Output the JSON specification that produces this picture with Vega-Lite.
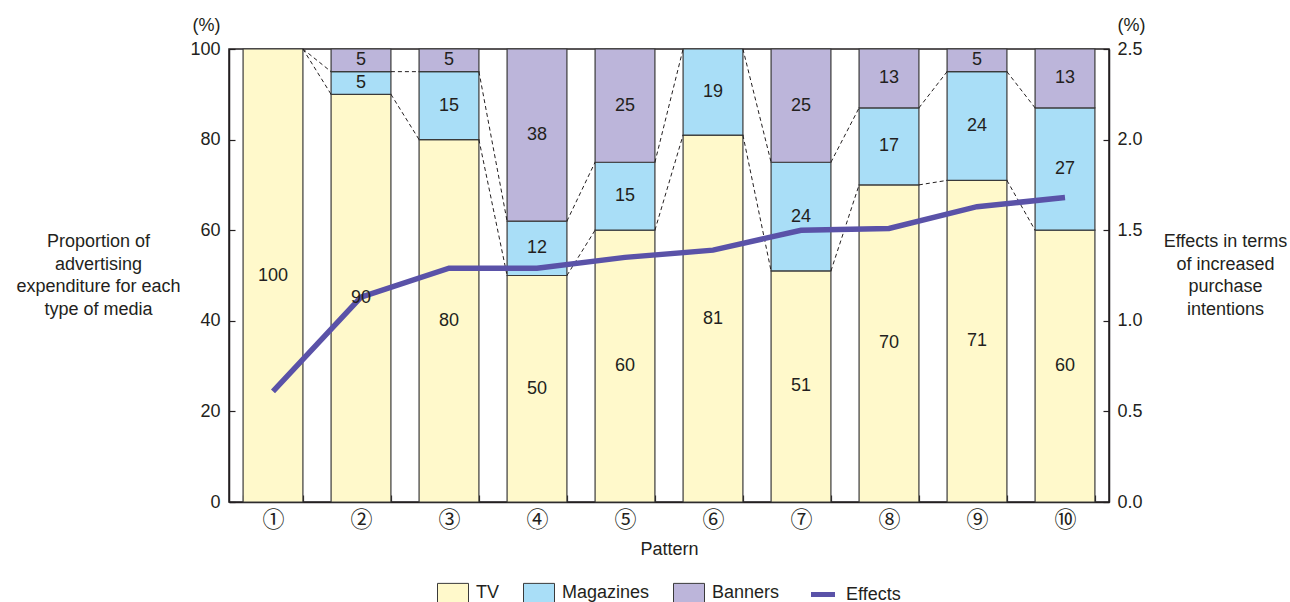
{
  "$schema": "https://vega.github.io/schema/vega-lite/v6.json",
  "width": 880,
  "height": 453,
  "autosize": {"type": "none"},
  "padding": {"left": 229, "top": 49, "right": 181, "bottom": 100},
  "config": {
    "font": "Liberation Sans",
    "view": {"stroke": "#231f20", "strokeWidth": 1.5},
    "axis": {
      "domainColor": "#231f20",
      "domainWidth": 1.5,
      "tickColor": "#231f20",
      "tickWidth": 1.2,
      "labelColor": "#231f20",
      "labelFontSize": 18,
      "labelFont": "Liberation Sans",
      "titleColor": "#231f20",
      "titleFontSize": 18,
      "titleFont": "Liberation Sans",
      "titleFontWeight": "normal",
      "grid": false
    },
    "axisX": {
      "labelFont": "Noto Sans CJK JP",
      "labelFontSize": 22
    }
  },
  "datasets": {
    "media": [
      {"pattern": "①", "media": "TV", "share": 100},
      {"pattern": "②", "media": "TV", "share": 90},
      {"pattern": "②", "media": "Magazines", "share": 5},
      {"pattern": "②", "media": "Banners", "share": 5},
      {"pattern": "③", "media": "TV", "share": 80},
      {"pattern": "③", "media": "Magazines", "share": 15},
      {"pattern": "③", "media": "Banners", "share": 5},
      {"pattern": "④", "media": "TV", "share": 50},
      {"pattern": "④", "media": "Magazines", "share": 12},
      {"pattern": "④", "media": "Banners", "share": 38},
      {"pattern": "⑤", "media": "TV", "share": 60},
      {"pattern": "⑤", "media": "Magazines", "share": 15},
      {"pattern": "⑤", "media": "Banners", "share": 25},
      {"pattern": "⑥", "media": "TV", "share": 81},
      {"pattern": "⑥", "media": "Magazines", "share": 19},
      {"pattern": "⑦", "media": "TV", "share": 51},
      {"pattern": "⑦", "media": "Magazines", "share": 24},
      {"pattern": "⑦", "media": "Banners", "share": 25},
      {"pattern": "⑧", "media": "TV", "share": 70},
      {"pattern": "⑧", "media": "Magazines", "share": 17},
      {"pattern": "⑧", "media": "Banners", "share": 13},
      {"pattern": "⑨", "media": "TV", "share": 71},
      {"pattern": "⑨", "media": "Magazines", "share": 24},
      {"pattern": "⑨", "media": "Banners", "share": 5},
      {"pattern": "⑩", "media": "TV", "share": 60},
      {"pattern": "⑩", "media": "Magazines", "share": 27},
      {"pattern": "⑩", "media": "Banners", "share": 13}
    ],
    "links": [
      {"a": "①", "b": "②", "ya": 100, "yb": 90},
      {"a": "①", "b": "②", "ya": 100, "yb": 95},
      {"a": "②", "b": "③", "ya": 90, "yb": 80},
      {"a": "②", "b": "③", "ya": 95, "yb": 95},
      {"a": "③", "b": "④", "ya": 80, "yb": 50},
      {"a": "③", "b": "④", "ya": 95, "yb": 62},
      {"a": "④", "b": "⑤", "ya": 50, "yb": 60},
      {"a": "④", "b": "⑤", "ya": 62, "yb": 75},
      {"a": "⑤", "b": "⑥", "ya": 60, "yb": 81},
      {"a": "⑤", "b": "⑥", "ya": 75, "yb": 100},
      {"a": "⑥", "b": "⑦", "ya": 81, "yb": 51},
      {"a": "⑥", "b": "⑦", "ya": 100, "yb": 75},
      {"a": "⑦", "b": "⑧", "ya": 51, "yb": 70},
      {"a": "⑦", "b": "⑧", "ya": 75, "yb": 87},
      {"a": "⑧", "b": "⑨", "ya": 70, "yb": 71},
      {"a": "⑧", "b": "⑨", "ya": 87, "yb": 95},
      {"a": "⑨", "b": "⑩", "ya": 71, "yb": 60},
      {"a": "⑨", "b": "⑩", "ya": 95, "yb": 87}
    ],
    "effects": [
      {"pattern": "①", "effect": 0.61},
      {"pattern": "②", "effect": 1.13},
      {"pattern": "③", "effect": 1.29},
      {"pattern": "④", "effect": 1.29},
      {"pattern": "⑤", "effect": 1.35},
      {"pattern": "⑥", "effect": 1.39},
      {"pattern": "⑦", "effect": 1.5},
      {"pattern": "⑧", "effect": 1.51},
      {"pattern": "⑨", "effect": 1.63},
      {"pattern": "⑩", "effect": 1.68}
    ]
  },
  "layer": [
    {
      "layer": [
        {
          "data": {"name": "media"},
          "mark": {"type": "bar", "stroke": "#3a3a3a", "strokeWidth": 1.2},
          "encoding": {
            "x": {
              "field": "pattern",
              "type": "nominal",
              "scale": {
                "domain": ["①", "②", "③", "④", "⑤", "⑥", "⑦", "⑧", "⑨", "⑩"],
                "paddingInner": 0.32,
                "paddingOuter": 0.16
              },
              "axis": {
                "title": "Pattern",
                "labelAngle": 0,
                "tickBand": "extent",
                "tickSize": -7,
                "labelPadding": 14,
                "titlePadding": 10
              }
            },
            "y": {
              "field": "share",
              "type": "quantitative",
              "stack": "zero",
              "scale": {"domain": [0, 100]},
              "axis": {
                "values": [0, 20, 40, 60, 80, 100],
                "tickSize": -6,
                "labelPadding": 15,
                "labelOverlap": false,
                "labelFlush": false,
                "labelLineHeight": 24,
                "labelExpr": "datum.value === 100 ? ['(%)', '100'] : datum.label",
                "labelOffset": {"condition": {"test": "datum.value === 100", "value": -24}, "value": 0},
                "title": ["Proportion of", "advertising", "expenditure for each", "type of media"],
                "titleAngle": 0,
                "titleAlign": "center",
                "titleBaseline": "middle",
                "titleLineHeight": 22.5,
                "titleX": -131,
                "titleY": 192.5
              }
            },
            "color": {
              "field": "media",
              "type": "nominal",
              "scale": {
                "domain": ["TV", "Magazines", "Banners", "Effects"],
                "range": ["#fff9cb", "#a9def7", "#bcb5da", "#5a52a8"]
              },
              "legend": {
                "title": null,
                "orient": "none",
                "legendX": 215,
                "legendY": 535,
                "direction": "horizontal",
                "symbolType": "M-1,-0.65H1V0.65H-1Z",
                "symbolSize": 961,
                "symbolStrokeColor": "#3a3a3a",
                "symbolStrokeWidth": 1,
                "labelFontSize": 18,
                "labelColor": "#231f20",
                "labelOffset": 14,
                "columnPadding": 21,
                "encode": {
                  "symbols": {
                    "update": {
                      "shape": {"signal": "datum.value === 'Effects' ? 'stroke' : 'M-1,-0.65H1V0.65H-1Z'"},
                      "size": {"signal": "datum.value === 'Effects' ? 576 : 961"},
                      "stroke": {"signal": "datum.value === 'Effects' ? '#5a52a8' : '#3a3a3a'"},
                      "strokeWidth": {"signal": "datum.value === 'Effects' ? 5 : 1"}
                    }
                  }
                }
              }
            },
            "order": {"field": "media", "sort": "descending"}
          }
        },
        {
          "data": {"name": "links"},
          "mark": {"type": "rule", "stroke": "#231f20", "strokeWidth": 1, "strokeDash": [4, 3]},
          "encoding": {
            "x": {
              "field": "a",
              "type": "nominal",
              "bandPosition": 1,
              "scale": {"domain": ["①", "②", "③", "④", "⑤", "⑥", "⑦", "⑧", "⑨", "⑩"]},
              "axis": {
                "title": "Pattern",
                "labelAngle": 0,
                "tickBand": "extent",
                "tickSize": -7,
                "labelPadding": 14,
                "titlePadding": 10
              }
            },
            "x2": {"field": "b", "bandPosition": 0},
            "y": {
              "field": "ya",
              "type": "quantitative",
              "scale": {"domain": [0, 100]},
              "axis": {
                "values": [0, 20, 40, 60, 80, 100],
                "tickSize": -6,
                "labelPadding": 15,
                "labelOverlap": false,
                "labelFlush": false,
                "labelLineHeight": 24,
                "labelExpr": "datum.value === 100 ? ['(%)', '100'] : datum.label",
                "labelOffset": {"condition": {"test": "datum.value === 100", "value": -24}, "value": 0},
                "title": ["Proportion of", "advertising", "expenditure for each", "type of media"],
                "titleAngle": 0,
                "titleAlign": "center",
                "titleBaseline": "middle",
                "titleLineHeight": 22.5,
                "titleX": -131,
                "titleY": 192.5
              }
            },
            "y2": {"field": "yb"}
          }
        }
      ]
    },
    {
      "data": {"name": "effects"},
      "mark": {"type": "line", "stroke": "#5a52a8", "strokeWidth": 5.5, "strokeJoin": "miter"},
      "encoding": {
        "x": {
          "field": "pattern",
          "type": "nominal",
          "scale": {"domain": ["①", "②", "③", "④", "⑤", "⑥", "⑦", "⑧", "⑨", "⑩"]},
          "axis": {
            "title": "Pattern",
            "labelAngle": 0,
            "tickBand": "extent",
            "tickSize": -7,
            "labelPadding": 14,
            "titlePadding": 10
          }
        },
        "y": {
          "field": "effect",
          "type": "quantitative",
          "scale": {"domain": [0, 2.5]},
          "axis": {
            "orient": "right",
            "values": [0, 0.5, 1, 1.5, 2, 2.5],
            "format": ".1f",
            "tickSize": -6,
            "labelPadding": 14,
            "labelOverlap": false,
            "labelFlush": false,
            "labelLineHeight": 24,
            "labelExpr": "datum.value === 2.5 ? ['(%)', '2.5'] : datum.label",
            "labelOffset": {"condition": {"test": "datum.value === 2.5", "value": -24}, "value": 0},
            "title": ["Effects in terms", "of increased", "purchase", "intentions"],
            "titleAngle": 0,
            "titleAlign": "center",
            "titleBaseline": "middle",
            "titleLineHeight": 22.5,
            "titleX": 116,
            "titleY": 192.5
          }
        }
      }
    },
    {
      "data": {"name": "media"},
      "transform": [
        {
          "stack": "share",
          "groupby": ["pattern"],
          "sort": [{"field": "media", "order": "descending"}],
          "as": ["lo", "hi"]
        },
        {"calculate": "(datum.lo + datum.hi) / 2", "as": "mid"}
      ],
      "mark": {"type": "text", "fontSize": 18, "color": "#231f20"},
      "encoding": {
        "x": {
          "field": "pattern",
          "type": "nominal",
          "scale": {"domain": ["①", "②", "③", "④", "⑤", "⑥", "⑦", "⑧", "⑨", "⑩"]},
          "axis": {
            "title": "Pattern",
            "labelAngle": 0,
            "tickBand": "extent",
            "tickSize": -7,
            "labelPadding": 14,
            "titlePadding": 10
          }
        },
        "y": {"field": "mid", "type": "quantitative", "scale": {"domain": [0, 100]}, "axis": null},
        "text": {"field": "share", "type": "quantitative"}
      }
    }
  ],
  "resolve": {"scale": {"y": "independent"}}
}
